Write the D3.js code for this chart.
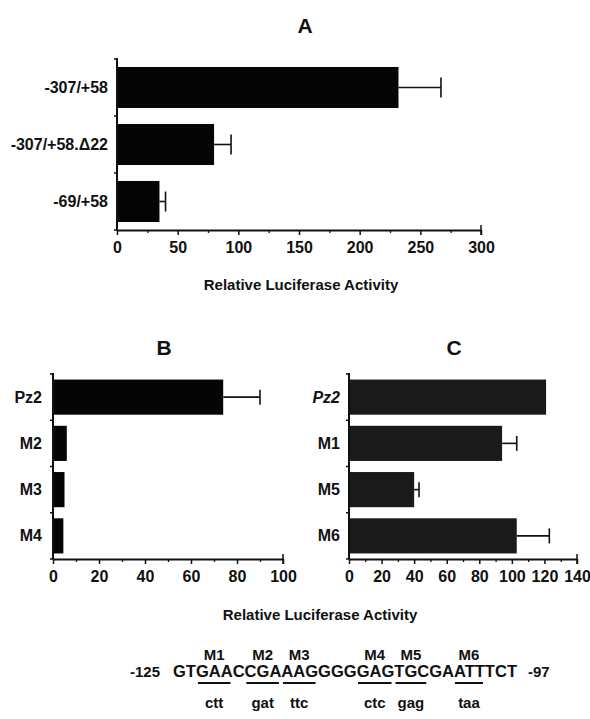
<!DOCTYPE html>
<html>
<head>
<meta charset="UTF-8">
<title>Relative Luciferase Activity</title>
<script src="https://d3js.org/d3.v7.min.js"></script>
<style>
    body { margin: 0; background: #fff; }
    svg text { font-family: "Liberation Sans", Arial, Helvetica, sans-serif; font-weight: bold; fill: #111; }
</style>
</head>
<body>
<svg width="590" height="719"></svg>
<script>
    // panel A
    const labelsA = ["-307/+58", "-307/+58.Δ22", "-69/+58"];
    const valuesA = [232, 80, 35];
    const errorsA = [35, 14, 5];
    const ticksA = [0, 50, 100, 150, 200, 250, 300];

    // panel B
    const labelsB = ["Pz2", "M2", "M3", "M4"];
    const valuesB = [74, 6, 5, 4.5];
    const errorsB = [16, 0, 0, 0];
    const ticksB = [0, 20, 40, 60, 80, 100];

    // panel C
    const labelsC = ["Pz2", "M1", "M5", "M6"];
    const valuesC = [121, 94, 40, 103];
    const errorsC = [0, 9, 3, 20];
    const ticksC = [0, 20, 40, 60, 80, 100, 120, 140];

    // sequence under B and C
    const seq = "GTGAACCGAAAGGGGGAGTGCGAATTTCT";
    const mutNames = ["M1", "M2", "M3", "M4", "M5", "M6"];
    const mutStart = [2, 6, 9, 15, 18, 23];
    const mutCodons = ["ctt", "gat", "ttc", "ctc", "gag", "taa"];

    const svg = d3.select("svg");
    const ink = "#111";

    function panel(o) {
        const x = d3.scaleLinear().domain([0, o.max]).range([o.x0, o.x1]);
        const y = d3.scaleBand().domain(o.labels).range([o.y0, o.y1])
            .paddingInner(o.pad).paddingOuter(o.pad / 2);
        const g = svg.append("g");

        // bars
        g.selectAll(".bar").data(o.labels).join("rect")
            .attr("class", "bar")
            .attr("x", x(0))
            .attr("y", d => y(d))
            .attr("width", (d, i) => x(o.values[i]) - x(0))
            .attr("height", y.bandwidth())
            .attr("fill", o.fill);

        // error bars
        const eb = g.selectAll(".err").data(o.labels.filter((d, i) => o.errors[i] > 0)).join("g").attr("class", "err");
        const idx = d => o.labels.indexOf(d);
        eb.append("line")
            .attr("x1", d => x(o.values[idx(d)]))
            .attr("x2", d => x(o.values[idx(d)] + o.errors[idx(d)]))
            .attr("y1", d => y(d) + y.bandwidth() / 2)
            .attr("y2", d => y(d) + y.bandwidth() / 2)
            .attr("stroke", ink).attr("stroke-width", 1.6);
        eb.append("line")
            .attr("x1", d => x(o.values[idx(d)] + o.errors[idx(d)]))
            .attr("x2", d => x(o.values[idx(d)] + o.errors[idx(d)]))
            .attr("y1", d => y(d) + y.bandwidth() / 2 - o.cap / 2)
            .attr("y2", d => y(d) + y.bandwidth() / 2 + o.cap / 2)
            .attr("stroke", ink).attr("stroke-width", 1.6);

        // y axis with ticks between the bars
        const bounds = d3.range(o.labels.length + 1).map(i => o.y0 + i * y.step());
        g.append("line").attr("x1", x(0)).attr("x2", x(0)).attr("y1", o.y0 - 1).attr("y2", o.y1)
            .attr("stroke", ink).attr("stroke-width", 2);
        g.selectAll(".ytick").data(bounds).join("line").attr("class", "ytick")
            .attr("x1", x(0) - 3).attr("x2", x(0)).attr("y1", d => d).attr("y2", d => d)
            .attr("stroke", ink).attr("stroke-width", 1.5);

        // category labels
        g.selectAll(".cat").data(o.labels).join("text").attr("class", "cat")
            .attr("x", x(0) - o.labelGap)
            .attr("y", d => y(d) + y.bandwidth() / 2 + 5.5)
            .attr("text-anchor", "end")
            .attr("font-size", o.labelSize)
            .attr("font-style", (d, i) => o.italic && i === 0 ? "italic" : null)
            .text(d => d);

        // x axis
        const minor = d3.range(0, o.max + 1, o.minorStep).filter(v => !o.ticks.includes(v));
        const xa = g.append("g").attr("transform", `translate(0,${o.y1})`)
            .call(d3.axisBottom(x).tickValues(o.ticks).tickSize(5).tickSizeOuter(0).tickPadding(7));
        xa.attr("font-family", null).attr("font-size", 16);
        xa.select(".domain").attr("stroke", ink).attr("stroke-width", 2);
        xa.selectAll(".tick line").attr("stroke", ink).attr("stroke-width", 1.5);
        xa.selectAll(".tick text").attr("fill", ink);
        g.append("g").attr("transform", `translate(0,${o.y1})`)
            .call(d3.axisBottom(x).tickValues(minor).tickSize(3).tickSizeOuter(0).tickFormat(""))
            .call(a => a.select(".domain").remove())
            .selectAll("line").attr("stroke", ink).attr("stroke-width", 1.3);
        g.append("line").attr("x1", x(o.max)).attr("x2", x(o.max))
            .attr("y1", o.y1 - 5).attr("y2", o.y1 + 5).attr("stroke", ink).attr("stroke-width", 1.5);

        // panel letter
        g.append("text").attr("x", o.tx).attr("y", o.ty).attr("text-anchor", "middle")
            .attr("font-size", 21).text(o.title);
    }

    panel({
        title: "A", tx: 305, ty: 33,
        labels: labelsA, values: valuesA, errors: errorsA, ticks: ticksA, max: 300, minorStep: 25,
        x0: 117, x1: 481, y0: 59, y1: 230, pad: 0.28, cap: 20,
        fill: "#050505", labelGap: 9, labelSize: 16
    });
    panel({
        title: "B", tx: 164, ty: 355,
        labels: labelsB, values: valuesB, errors: errorsB, ticks: ticksB, max: 100, minorStep: 10,
        x0: 53, x1: 283, y0: 374, y1: 559, pad: 0.24, cap: 15,
        fill: "#050505", labelGap: 11, labelSize: 16
    });
    panel({
        title: "C", tx: 454, ty: 355,
        labels: labelsC, values: valuesC, errors: errorsC, ticks: ticksC, max: 140, minorStep: 10,
        x0: 349, x1: 577, y0: 374, y1: 559, pad: 0.24, cap: 15,
        fill: "#1a1a1a", labelGap: 9, labelSize: 16, italic: true
    });

    // axis titles
    svg.append("text").attr("x", 301).attr("y", 290).attr("text-anchor", "middle")
        .attr("font-size", 15).text("Relative Luciferase Activity");
    svg.append("text").attr("x", 320).attr("y", 620).attr("text-anchor", "middle")
        .attr("font-size", 15).text("Relative Luciferase Activity");

    // sequence line
    const seqX0 = 173, seqX1 = 517, seqY = 677, seqSize = 16;
    const probe = svg.append("text").attr("font-size", seqSize);
    const widths = seq.split("").map(c => { probe.text(c); return probe.node().getComputedTextLength(); });
    probe.remove();
    const k = (seqX1 - seqX0) / d3.sum(widths);
    const pos = d3.cumsum([0, ...widths]).map(w => seqX0 + w * k);

    svg.append("text").attr("x", 130).attr("y", seqY).attr("font-size", 15).text("-125");
    svg.append("text").attr("x", seqX0).attr("y", seqY).attr("font-size", seqSize)
        .attr("textLength", seqX1 - seqX0).attr("lengthAdjust", "spacingAndGlyphs").text(seq);
    svg.append("text").attr("x", 528).attr("y", seqY).attr("font-size", 15).text("-97");

    const mg = svg.selectAll(".mut").data(mutNames).join("g").attr("class", "mut");
    const cx = i => (pos[mutStart[i]] + pos[mutStart[i] + 3]) / 2;
    mg.append("text").attr("x", (d, i) => cx(i)).attr("y", 660).attr("text-anchor", "middle")
        .attr("font-size", 15).text(d => d);
    mg.append("line")
        .attr("x1", (d, i) => pos[mutStart[i]] + 2).attr("x2", (d, i) => pos[mutStart[i] + 3] - 2)
        .attr("y1", seqY + 6).attr("y2", seqY + 6).attr("stroke", ink).attr("stroke-width", 2);
    mg.append("text").attr("x", (d, i) => cx(i)).attr("y", 708).attr("text-anchor", "middle")
        .attr("font-size", 15).text((d, i) => mutCodons[i]);
</script>
</body>
</html>
